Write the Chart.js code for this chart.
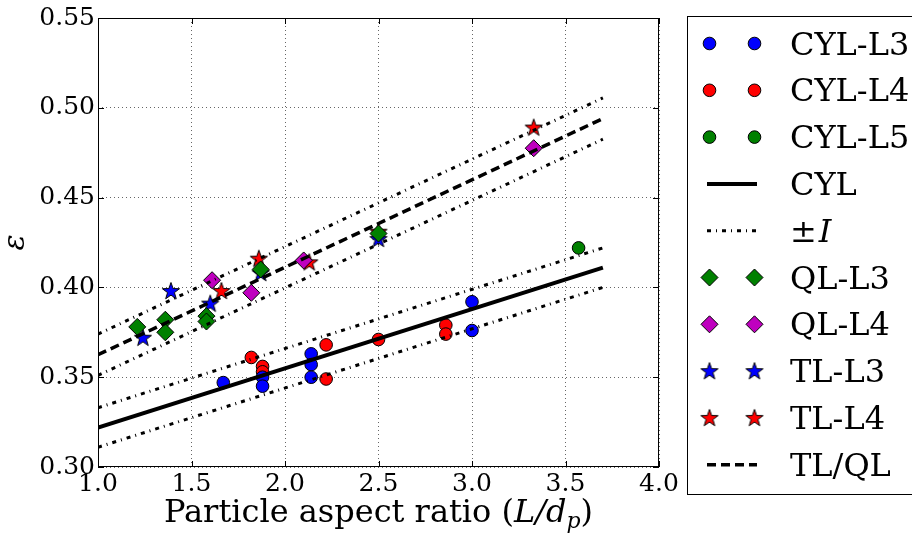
<!DOCTYPE html>
<html>

<head>
    <title>Bed voidage vs particle aspect ratio</title>
    <script src="https://cdn.jsdelivr.net/npm/chart.js"></script>
    <style>
        body {
            margin: 0;
            background: #fff;
        }
    </style>
</head>

<body>
    <canvas id="voidChart" width="912" height="533"></canvas>

    <script>
        const cylL3X = [1.67, 1.88, 1.88, 2.14, 2.14, 2.14, 3.00, 3.00];
        const cylL3Y = [0.347, 0.350, 0.345, 0.363, 0.357, 0.350, 0.392, 0.376];
        const cylL4X = [1.82, 1.88, 1.88, 2.22, 2.22, 2.50, 2.86, 2.86];
        const cylL4Y = [0.361, 0.356, 0.353, 0.368, 0.349, 0.371, 0.379, 0.374];
        const cylL5X = [3.57];
        const cylL5Y = [0.422];
        const qlL3X = [1.21, 1.36, 1.36, 1.58, 1.58, 1.87, 2.50];
        const qlL3Y = [0.378, 0.382, 0.375, 0.384, 0.381, 0.410, 0.430];
        const qlL4X = [1.61, 1.82, 2.10, 3.33];
        const qlL4Y = [0.404, 0.397, 0.415, 0.4775];
        const tlL3X = [1.24, 1.39, 1.60, 1.87, 2.50];
        const tlL3Y = [0.372, 0.398, 0.391, 0.408, 0.427];
        const tlL4X = [1.66, 1.86, 2.13, 2.50, 3.33];
        const tlL4Y = [0.398, 0.416, 0.414, 0.431, 0.489];

        // fitted lines (end points) and +/- I bands
        const fitX = [1.0, 3.7];
        const cylFit = [0.322, 0.411];
        const cylUpper = [0.333, 0.422];
        const cylLower = [0.311, 0.400];
        const tlqlFit = [0.3625, 0.494];
        const tlqlUpper = [0.374, 0.5055];
        const tlqlLower = [0.351, 0.4825];

        const xTicks = [1.0, 1.5, 2.0, 2.5, 3.0, 3.5, 4.0];
        const yTicks = [0.30, 0.35, 0.40, 0.45, 0.50, 0.55];

        const SERIF = '"DejaVu Serif", "Liberation Serif", serif';
        const dashDot = [4, 5, 1, 5];
        const dashed = [9, 5];

        function zip(xs, ys) {
            return xs.map((x, i) => ({ x: x, y: ys[i] }));
        }

        function makeStar(color) {
            const c = document.createElement('canvas');
            c.width = 20;
            c.height = 20;
            const g = c.getContext('2d');
            g.beginPath();
            for (let i = 0; i < 10; i++) {
                const r = i % 2 ? 3.6 : 9;
                const a = -Math.PI / 2 + i * Math.PI / 5;
                g.lineTo(10 + r * Math.cos(a), 10.5 + r * Math.sin(a));
            }
            g.closePath();
            g.fillStyle = color;
            g.fill();
            g.lineWidth = 1;
            g.strokeStyle = '#000';
            g.stroke();
            return c;
        }

        function pointSet(label, xs, ys, color, style) {
            let ps = style, r = 6.3;
            if (style === 'star') { ps = makeStar(color); r = 9; }
            if (style === 'rectRot') r = 8.5;
            return {
                label: label, kind: 'marker', data: zip(xs, ys),
                backgroundColor: color, borderColor: '#000', borderWidth: 1,
                pointStyle: ps, pointRadius: r, pointHoverRadius: r,
                showLine: false, order: 2
            };
        }

        function lineSet(label, ys, dash, width, legend) {
            return {
                label: label, kind: 'line', legend: legend, data: zip(fitX, ys),
                borderColor: '#000', borderWidth: width, borderDash: dash,
                borderCapStyle: 'butt', pointRadius: 0, showLine: true,
                fill: false, order: 1
            };
        }

        const datasets = [
            pointSet('CYL-L3', cylL3X, cylL3Y, '#0000ff', 'circle'),
            pointSet('CYL-L4', cylL4X, cylL4Y, '#ff0000', 'circle'),
            pointSet('CYL-L5', cylL5X, cylL5Y, '#008000', 'circle'),
            lineSet('CYL', cylFit, [], 4, true),
            lineSet('±I', cylUpper, dashDot, 3, true),
            lineSet('±I', cylLower, dashDot, 3, false),
            pointSet('QL-L3', qlL3X, qlL3Y, '#008000', 'rectRot'),
            pointSet('QL-L4', qlL4X, qlL4Y, '#bf00bf', 'rectRot'),
            pointSet('TL-L3', tlL3X, tlL3Y, '#0000ff', 'star'),
            pointSet('TL-L4', tlL4X, tlL4Y, '#ff0000', 'star'),
            lineSet('TL/QL', tlqlFit, dashed, 3.5, true),
            lineSet('±I', tlqlUpper, dashDot, 3, false),
            lineSet('±I', tlqlLower, dashDot, 3, false)
        ];

        function drawMarker(ctx, ds, x, y) {
            const ps = ds.pointStyle;
            if (ps instanceof HTMLCanvasElement) {
                ctx.drawImage(ps, x - ps.width / 2, y - ps.height / 2);
                return;
            }
            ctx.beginPath();
            if (ps === 'circle') {
                ctx.arc(x, y, ds.pointRadius, 0, Math.PI * 2);
            } else {
                const r = ds.pointRadius;
                ctx.moveTo(x, y - r);
                ctx.lineTo(x + r, y);
                ctx.lineTo(x, y + r);
                ctx.lineTo(x - r, y);
                ctx.closePath();
            }
            ctx.fillStyle = ds.backgroundColor;
            ctx.fill();
            ctx.lineWidth = 1;
            ctx.strokeStyle = '#000';
            ctx.stroke();
        }

        // frame, inward ticks, axis titles and the boxed legend
        const decorations = {
            id: 'decorations',
            afterDraw: chart => {
                const ctx = chart.ctx;
                const a = chart.chartArea;
                const sx = chart.scales.x, sy = chart.scales.y;
                ctx.save();
                ctx.strokeStyle = '#000';
                ctx.lineWidth = 1;
                ctx.strokeRect(a.left + 0.5, a.top + 0.5, a.right - a.left - 1, a.bottom - a.top - 1);
                ctx.beginPath();
                xTicks.forEach(v => {
                    const px = Math.round(sx.getPixelForValue(v)) + 0.5;
                    ctx.moveTo(px, a.bottom); ctx.lineTo(px, a.bottom - 6);
                    ctx.moveTo(px, a.top); ctx.lineTo(px, a.top + 6);
                });
                yTicks.forEach(v => {
                    const py = Math.round(sy.getPixelForValue(v)) + 0.5;
                    ctx.moveTo(a.left, py); ctx.lineTo(a.left + 6, py);
                    ctx.moveTo(a.right, py); ctx.lineTo(a.right - 6, py);
                });
                ctx.stroke();

                // x title with italic L/d_p
                ctx.fillStyle = '#000';
                ctx.textBaseline = 'alphabetic';
                const parts = [
                    ['Particle aspect ratio (', '32px ' + SERIF, 0],
                    ['L/d', 'italic 32px ' + SERIF, 0],
                    ['p', 'italic 22px ' + SERIF, 6],
                    [')', '32px ' + SERIF, 0]
                ];
                let total = 0;
                parts.forEach(p => { ctx.font = p[1]; total += ctx.measureText(p[0]).width; });
                let tx = (a.left + a.right) / 2 - total / 2;
                parts.forEach(p => {
                    ctx.font = p[1];
                    ctx.textAlign = 'left';
                    ctx.fillText(p[0], tx, 522 + p[2]);
                    tx += ctx.measureText(p[0]).width;
                });

                // y title
                ctx.save();
                ctx.translate(24, (a.top + a.bottom) / 2);
                ctx.rotate(-Math.PI / 2);
                ctx.font = 'italic 30px ' + SERIF;
                ctx.textAlign = 'center';
                ctx.fillText('ε', 0, 0);
                ctx.restore();

                // legend box
                ctx.lineWidth = 1;
                ctx.strokeRect(687.5, 16.5, 260, 478);
                const entries = chart.data.datasets.filter(d => d.kind === 'marker' || d.legend);
                entries.forEach((ds, i) => {
                    const y = 43.5 + i * 46.8;
                    if (ds.kind === 'marker') {
                        drawMarker(ctx, ds, 709.5, y);
                        drawMarker(ctx, ds, 754.5, y);
                    } else {
                        ctx.beginPath();
                        ctx.setLineDash(ds.borderDash);
                        ctx.lineCap = 'butt';
                        ctx.lineWidth = ds.borderWidth;
                        ctx.strokeStyle = '#000';
                        ctx.moveTo(707, y);
                        ctx.lineTo(757, y);
                        ctx.stroke();
                        ctx.setLineDash([]);
                    }
                    ctx.fillStyle = '#000';
                    ctx.textAlign = 'left';
                    ctx.textBaseline = 'alphabetic';
                    if (ds.label === '±I') {
                        ctx.font = '32px ' + SERIF;
                        ctx.fillText('±', 790, y + 11);
                        const w = ctx.measureText('±').width;
                        ctx.font = 'italic 32px ' + SERIF;
                        ctx.fillText('I', 790 + w + 2, y + 11);
                    } else {
                        ctx.font = '32px ' + SERIF;
                        ctx.fillText(ds.label, 790, y + 11);
                    }
                });
                ctx.restore();
            }
        };

        const ctx = document.getElementById('voidChart').getContext('2d');
        const voidChart = new Chart(ctx, {
            type: 'scatter',
            data: { datasets: datasets },
            options: {
                responsive: false,
                animation: false,
                devicePixelRatio: 1,
                layout: { padding: { top: 16, right: 253, left: 0, bottom: 0 } },
                plugins: {
                    legend: { display: false },
                    tooltip: { enabled: false }
                },
                scales: {
                    x: {
                        type: 'linear', min: 1, max: 4,
                        afterFit: s => { s.height = 66; },
                        afterBuildTicks: s => { s.ticks = xTicks.map(v => ({ value: v })); },
                        ticks: {
                            callback: v => v.toFixed(1), autoSkip: false, maxRotation: 0,
                            color: '#000', padding: 2, font: { family: SERIF, size: 25 }
                        },
                        grid: { color: 'rgba(0,0,0,0.6)', lineWidth: 1, drawTicks: false },
                        border: { display: false, dash: [1, 3] }
                    },
                    y: {
                        type: 'linear', min: 0.3, max: 0.55,
                        afterFit: s => { s.width = 98; },
                        afterBuildTicks: s => { s.ticks = yTicks.map(v => ({ value: v })); },
                        ticks: {
                            callback: v => v.toFixed(2), autoSkip: false,
                            color: '#000', padding: 3, font: { family: SERIF, size: 25 }
                        },
                        grid: { color: 'rgba(0,0,0,0.6)', lineWidth: 1, drawTicks: false },
                        border: { display: false, dash: [1, 3] }
                    }
                }
            },
            plugins: [decorations]
        });
    </script>
</body>

</html>
